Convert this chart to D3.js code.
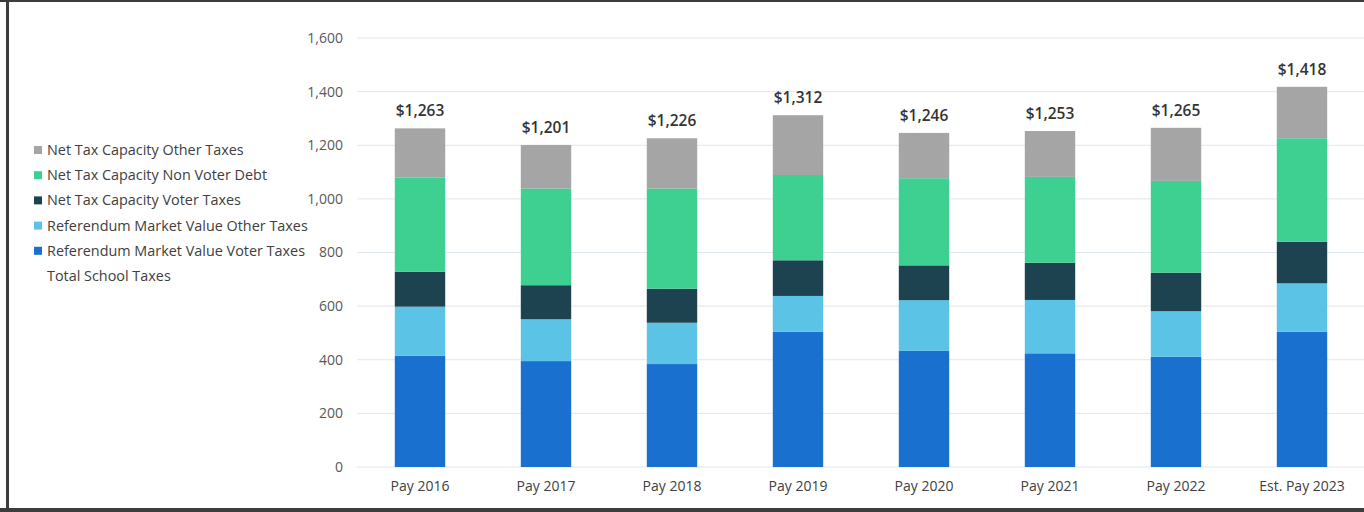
<!DOCTYPE html>
<html>
<head>
<meta charset="utf-8">
<script src="https://cdn.jsdelivr.net/npm/d3@7"></script>
<style>
  body { margin: 0; background: #fff; }
  svg { display: block; font-family: "Open Sans", sans-serif; }
</style>
</head>
<body>
<div id="chart"></div>
<script>
// values
var years = ["Pay 2016", "Pay 2017", "Pay 2018", "Pay 2019", "Pay 2020", "Pay 2021", "Pay 2022", "Est. Pay 2023"];
var refVoter = [415, 395, 384, 505, 433, 424, 411, 505];
var refOther = [183, 156, 154, 133, 189, 199, 170, 180];
var ntcVoter = [130, 127, 127, 133, 130, 139, 144, 155];
var ntcNonVoter = [351, 361, 374, 318, 325, 320, 342, 386];
var ntcOther = [184, 162, 187, 223, 169, 171, 198, 192];
var totals = [1263, 1201, 1226, 1312, 1246, 1253, 1265, 1418];
var yTicks = [0, 200, 400, 600, 800, 1000, 1200, 1400, 1600];

var seriesNames = [
  "Referendum Market Value Voter Taxes",
  "Referendum Market Value Other Taxes",
  "Net Tax Capacity Voter Taxes",
  "Net Tax Capacity Non Voter Debt",
  "Net Tax Capacity Other Taxes"
];
var seriesColors = ["#1a70cf", "#5bc3e5", "#1e4350", "#3dd090", "#a5a5a5"];

var svgWidth = 1364, svgHeight = 512;

var svg = d3.select("#chart").append("svg")
  .attr("width", svgWidth)
  .attr("height", svgHeight);

// frame around the picture
svg.append("rect").attr("x", 0).attr("y", 0).attr("width", svgWidth).attr("height", 2).attr("fill", "#3c3c3c");
svg.append("rect").attr("x", 6).attr("y", 0).attr("width", 3).attr("height", svgHeight).attr("fill", "#3c3c3c");
svg.append("rect").attr("x", 0).attr("y", 508).attr("width", svgWidth).attr("height", 4).attr("fill", "#3c3c3c");

var table = years.map(function(y, i) {
  return { year: y, s0: refVoter[i], s1: refOther[i], s2: ntcVoter[i], s3: ntcNonVoter[i], s4: ntcOther[i], total: totals[i] };
});

var x = d3.scaleBand()
  .domain(years)
  .range([357, 1365])
  .paddingInner(0.6)
  .paddingOuter(0.3);

var y = d3.scaleLinear()
  .domain([0, 1600])
  .range([467, 38]);

// gridlines
svg.append("g").selectAll("line")
  .data(yTicks)
  .enter().append("line")
  .attr("x1", 357).attr("x2", svgWidth)
  .attr("y1", d => y(d)).attr("y2", d => y(d))
  .attr("stroke", "#dfe6ee")
  .attr("stroke-width", 1);

var leftAxis = d3.axisLeft(y).tickValues(yTicks).tickFormat(d3.format(",")).tickSize(0).tickPadding(0);
var yAxis = svg.append("g")
  .attr("transform", "translate(343,0)")
  .call(leftAxis);
yAxis.select(".domain").remove();
yAxis.selectAll("text").attr("fill", "#595959").style("font-size", "14px").style("font-family", "'Open Sans', sans-serif");

var bottomAxis = d3.axisBottom(x).tickSize(0).tickPadding(0);
var xAxis = svg.append("g")
  .attr("transform", "translate(0,481)")
  .call(bottomAxis);
xAxis.select(".domain").remove();
xAxis.selectAll("text").attr("fill", "#404040").style("font-size", "14px").style("font-family", "'Open Sans', sans-serif");

var stack = d3.stack().keys(["s0", "s1", "s2", "s3", "s4"]);
var stacked = stack(table);

svg.append("g").selectAll("g")
  .data(stacked)
  .enter().append("g")
  .attr("fill", (d, i) => seriesColors[i])
  .selectAll("rect")
  .data(d => d)
  .enter().append("rect")
  .attr("x", d => x(d.data.year))
  .attr("width", x.bandwidth())
  .attr("y", d => y(d[1]))
  .attr("height", d => y(d[0]) - y(d[1]));

// total labels
svg.append("g").selectAll("text")
  .data(table)
  .enter().append("text")
  .attr("x", d => x(d.year) + x.bandwidth() / 2)
  .attr("y", d => y(d.total) - 12)
  .attr("text-anchor", "middle")
  .attr("fill", "#333")
  .style("font-size", "15.5px")
  .style("font-weight", "600")
  .text(d => "$" + d3.format(",")(d.total));

// legend, top entry first
var legendItems = seriesNames.map((n, i) => ({ name: n, color: seriesColors[i] })).reverse();
legendItems.push({ name: "Total School Taxes", color: null });

var legend = svg.append("g");
var rows = legend.selectAll("g")
  .data(legendItems)
  .enter().append("g")
  .attr("transform", (d, i) => `translate(34, ${150 + i * 25.2})`);

rows.filter(d => d.color)
  .append("rect")
  .attr("x", 0).attr("y", -4)
  .attr("width", 8).attr("height", 8)
  .attr("fill", d => d.color);

rows.append("text")
  .attr("x", 13)
  .attr("dy", "0.35em")
  .attr("fill", "#404040")
  .style("font-size", "14.4px")
  .text(d => d.name);
</script>
</body>
</html>
